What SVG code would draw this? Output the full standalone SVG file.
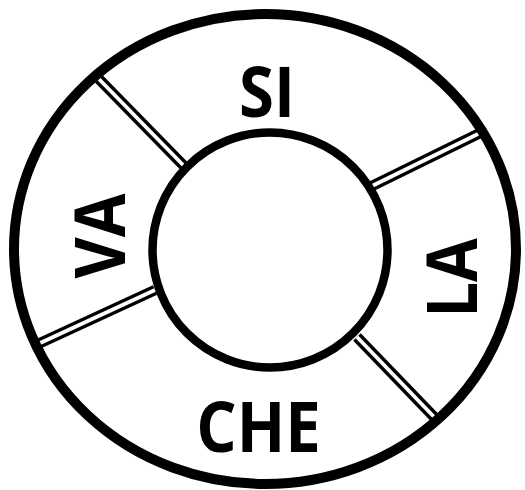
<svg xmlns="http://www.w3.org/2000/svg" width="525" height="490" viewBox="0 0 525 490">
<style>
.lbl{font-family:"Open Sans","Liberation Sans",sans-serif;font-weight:700;font-size:69px;fill:#000;text-anchor:middle}
.dk{stroke:#000;stroke-width:10.5;fill:none}
.wt{stroke:#fff;stroke-width:3.8;fill:none}
</style>
<rect width="525" height="490" fill="#fff"/>
<g id="connectors">
<line class="dk" x1="184" y1="166" x2="96" y2="76"/>
<line class="dk" x1="372" y1="186" x2="482" y2="132"/>
<line class="dk" x1="155" y1="290" x2="38" y2="344"/>
<line class="dk" x1="357" y1="337" x2="437" y2="420"/>
<line class="wt" x1="184" y1="166" x2="96" y2="76"/>
<line class="wt" x1="372" y1="186" x2="482" y2="132"/>
<line class="wt" x1="155" y1="290" x2="38" y2="344"/>
<line class="wt" x1="357" y1="337" x2="437" y2="420"/>
</g>
<g id="outer">
<ellipse cx="265" cy="249" rx="251" ry="235" fill="none" stroke="#000" stroke-width="10"/>
</g>
<g id="inner">
<circle cx="270" cy="250" r="117.5" fill="#fff" stroke="#000" stroke-width="8.5"/>
</g>
<g id="SI"><text class="lbl" transform="translate(267 117) scale(0.92 1)">SI</text></g>
<g id="CHE"><text class="lbl" transform="translate(258.5 452) scale(0.92 1)">CHE</text></g>
<g id="VA"><text class="lbl" transform="translate(125 236) rotate(-90) scale(0.92 1)">VA</text></g>
<g id="LA"><text class="lbl" transform="translate(477 278) rotate(-90) scale(0.92 1)">LA</text></g>
</svg>
